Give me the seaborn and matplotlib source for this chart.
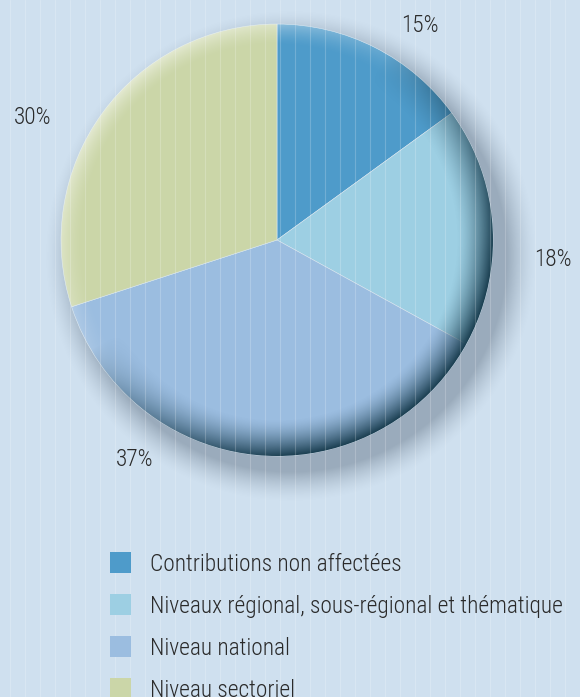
import numpy as np
import matplotlib
matplotlib.use("Agg")
import matplotlib.pyplot as plt
import seaborn as sns
from matplotlib.patches import Circle, Rectangle
from matplotlib import font_manager
from matplotlib.font_manager import FontProperties

sns.set_theme(style="white")

categories = [
    "Contributions non affectées",
    "Niveaux régional, sous-régional et thématique",
    "Niveau national",
    "Niveau sectoriel",
]
shares = [15, 18, 37, 30]
pct_labels = ["15%", "18%", "37%", "30%"]
colors = ["#4e9bca", "#9dcfe3", "#9bbde0", "#cbd6a8"]


def pick_font():
    files = [f.fname for f in font_manager.fontManager.ttflist]
    for key in ["LiberationSansNarrow-Regular", "RobotoCondensed-Light", "RobotoCondensed-Regular",
                "DejaVuSansCondensed.ttf"]:
        for fn in files:
            if key in fn:
                return fn
    return None


font_file = pick_font()
plt.rcParams["font.family"] = ["Roboto", "DejaVu Sans"]

W, H = 580, 697
bg = "#cfe0ef"
cx, cy, R = 277, H - 240, 216

fig = plt.figure(figsize=(W / 100, H / 100), dpi=100, facecolor=bg)
ax = fig.add_axes([0, 0, 1, 1])
ax.set_facecolor(bg)


def fprop(size):
    if font_file:
        return FontProperties(fname=font_file, size=size)
    return FontProperties(family=["Roboto", "DejaVu Sans"], size=size)


# scale font so the longest legend label is about 415 px wide
renderer = fig.canvas.get_renderer()
probe = fig.text(0, 0, categories[1], fontproperties=fprop(17))
w17 = probe.get_window_extent(renderer).width
probe.remove()
fsize = min(18, 17 * 415 / w17)

yy, xx = np.mgrid[0:H, 0:W] + 0.5

# soft shadow under the disc
d = np.hypot(xx - (cx + 14), yy - (cy - 16)) - R
a = np.clip(1 - d / 30, 0, 1) ** 1.5 * 0.5
shadow = np.zeros((H, W, 4))
shadow[..., :3] = np.array([0.40, 0.47, 0.54])
shadow[..., 3] = a
ax.imshow(shadow, extent=(0, W, 0, H), origin="lower", zorder=1, interpolation="bilinear")

ax.pie(
    shares, colors=colors, startangle=90, counterclock=False,
    center=(cx, cy), radius=R, frame=True,
    wedgeprops=dict(linewidth=0.4, edgecolor="#dce9f2", zorder=2),
)
ax.set_xlim(0, W)
ax.set_ylim(0, H)
ax.set_aspect("equal")
ax.axis("off")

# rim shading: dark at lower right, light at upper left
r = np.hypot(xx - cx, yy - cy) / R
ang = np.arctan2(yy - cy, xx - cx)
dirv = np.cos(ang - np.deg2rad(-45))
rim = np.clip((r - 0.83) / 0.17, 0, 1) ** 1.5
dark = rim * np.clip(dirv + 0.25, 0, 1) ** 0.8
light = np.clip((r - 0.9) / 0.1, 0, 1) ** 1.5 * np.clip(-dirv, 0, 1) * 0.5
over = np.zeros((H, W, 4))
rgb_dark = np.array([0.10, 0.24, 0.31])
tot = dark + light + 1e-9
over[..., :3] = (rgb_dark[None, None, :] * dark[..., None] + 1.0 * light[..., None]) / tot[..., None]
over[..., 3] = np.clip(dark + light, 0, 1)
img = ax.imshow(over, extent=(0, W, 0, H), origin="lower", zorder=3, interpolation="bilinear")
img.set_clip_path(Circle((cx, cy), R, transform=ax.transData))

# faint vertical stripes
for x in np.arange(10, W, 15):
    ax.axvline(x, color="white", alpha=0.2, lw=0.8, zorder=4)

label_pos = [(420, H - 25), (553, H - 260), (135, H - 460), (33, H - 117)]
for (x, y), t in zip(label_pos, pct_labels):
    ax.text(x, y, t, ha="center", va="center", fontproperties=fprop(fsize), color="#2a2a2a", zorder=5)

# legend: square swatches with labels, 42 px per row
for i, (c, lab) in enumerate(zip(colors, categories)):
    yc = H - (562 + 42 * i)
    ax.add_patch(Rectangle((110, yc - 10.5), 21, 21, facecolor=c, edgecolor="none", zorder=5))
    ax.text(150, yc, lab, ha="left", va="center_baseline", fontproperties=fprop(fsize),
            color="#2a2a2a", zorder=5)

fig.savefig("out.png", dpi=100, facecolor=bg)
